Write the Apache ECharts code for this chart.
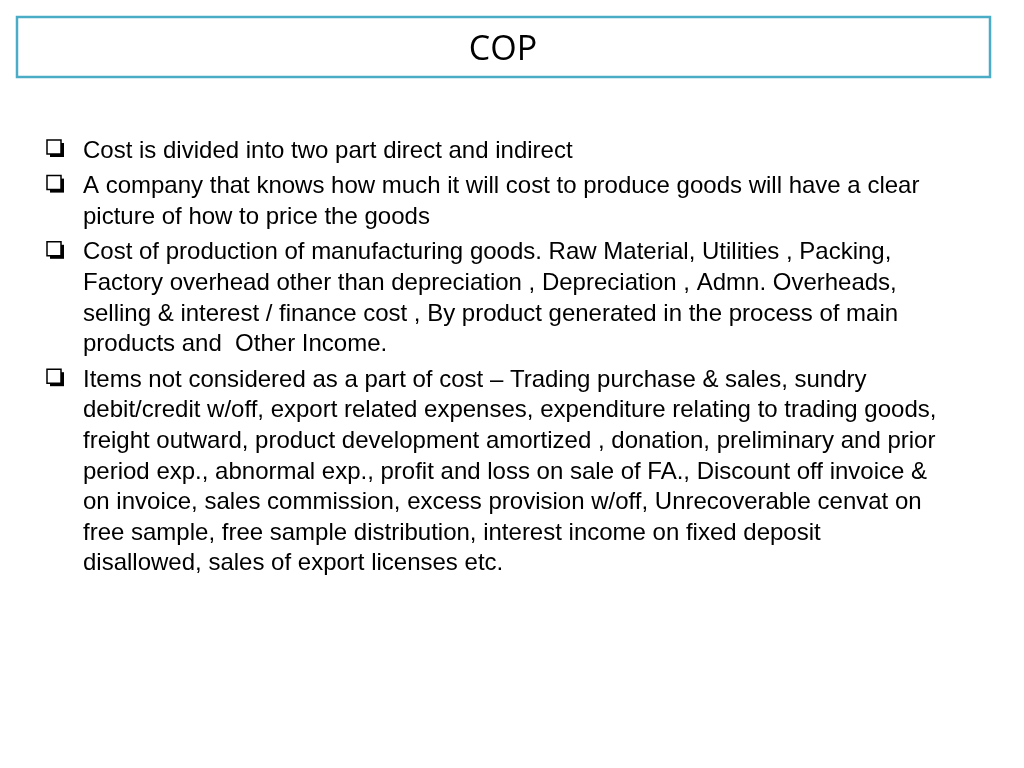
<!DOCTYPE html>
<html><head><meta charset="utf-8">
<script src="https://cdn.jsdelivr.net/npm/echarts@6/dist/echarts.min.js"></script>
<style>html,body{margin:0;padding:0;background:#fff}#c{width:1024px;height:768px}</style>
</head><body><div id="c"></div>
<script>
const title = "COP";
const bullet1 = ["Cost is divided into two part direct and indirect"];
const bullet2 = ["A company that knows how much it will cost to produce goods will have a clear",
  "picture of how to price the goods"];
const bullet3 = ["Cost of production of manufacturing goods. Raw Material, Utilities , Packing,",
  "Factory overhead other than depreciation , Depreciation , Admn. Overheads,",
  "selling & interest / finance cost , By product generated in the process of main",
  "products and  Other Income."];
const bullet4 = ["Items not considered as a part of cost \u2013 Trading purchase & sales, sundry",
  "debit/credit w/off, export related expenses, expenditure relating to trading goods,",
  "freight outward, product development amortized , donation, preliminary and prior",
  "period exp., abnormal exp., profit and loss on sale of FA., Discount off invoice &",
  "on invoice, sales commission, excess provision w/off, Unrecoverable cenvat on",
  "free sample, free sample distribution, interest income on fixed deposit",
  "disallowed, sales of export licenses etc."];
const bullets = [bullet1, bullet2, bullet3, bullet4];

const chart = echarts.init(document.getElementById('c'));
const g = [];
g.push({type:'rect', shape:{x:17,y:17,width:973,height:60}, style:{fill:'#fff',stroke:'#4bacc6',lineWidth:2.5}});
g.push({type:'text', x:503, y:50, style:{text:title, fill:'#000', fontFamily:'Open Sans', fontSize:34, align:'center', verticalAlign:'middle'}});
let y = 151;
bullets.forEach((b, bi) => {
  if (bi > 0) y += 5;
  g.push({type:'rect', shape:{x:50,y:y-8,width:14,height:14}, style:{fill:'#000'}});
  g.push({type:'rect', shape:{x:47,y:y-11,width:14,height:14}, style:{fill:'#fff',stroke:'#000',lineWidth:1.5}});
  b.forEach(line => {
    g.push({type:'text', x:83, y:y, style:{text:line, fill:'#000', fontFamily:'Liberation Sans', fontSize:24, verticalAlign:'middle'}});
    y += 30.6;
  });
});
chart.setOption({animation:false, graphic:g});
</script></body></html>
